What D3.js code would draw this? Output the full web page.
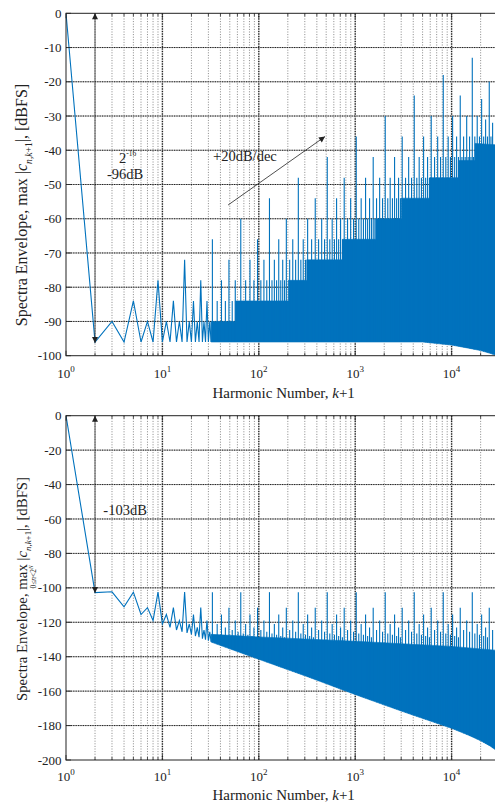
<!DOCTYPE html>
<html>
<head>
<meta charset="utf-8">
<script src="https://cdn.jsdelivr.net/npm/d3@7"></script>
<style>
  body { margin: 0; background: #fff; }
  text { font-family: "Liberation Serif", "Times New Roman", serif; fill: #222; }
</style>
</head>
<body>
<div id="vis"></div>
<script>
// harmonic number k+1 on a log axis (shared by both panels)
const harmonicMax = 32768;
const decadeTicks = [1, 10, 100, 1000, 10000];
const topDbTicks = [0, -10, -20, -30, -40, -50, -60, -70, -80, -90, -100];
const botDbTicks = [0, -20, -40, -60, -80, -100, -120, -140, -160, -180, -200];

// ---- top panel, max |c_n,k+1| ----
// first harmonics, drawn as a plain line: [k+1, dBFS]
const topLine = [
  [1, 0], [2, -96], [3, -90], [4, -96], [5, -84], [6, -96], [7, -90], [8, -96],
  [9, -78], [10, -96], [11, -90], [12, -96], [13, -84], [14, -96], [15, -90], [16, -96],
  [17, -72], [18, -96], [19, -90], [20, -96], [21, -84], [22, -96], [23, -90], [24, -96],
  [25, -78], [26, -96], [27, -90], [28, -96], [29, -84], [30, -96], [31, -90], [32, -96]
];
// the part that reads as solid blue: upper (steps) and lower edge
const topBandUpper = [
  [32, -90], [57, -90], [57, -84], [202, -84], [202, -78], [314, -78], [314, -72],
  [742, -72], [742, -66], [1632, -66], [1632, -60], [3020, -60], [3020, -54],
  [5970, -54], [5970, -48], [11750, -48], [11750, -43], [17500, -43], [17500, -38],
  [32768, -38.5]
];
const topBandLower = [
  [32, -96], [5000, -96], [10000, -96.9], [15000, -97.8], [20000, -98.5],
  [25000, -99.3], [30000, -100], [32768, -100]
];
// spikes standing out above the solid part
const topSpikeLevels = [-84, -78, -72, -66, -60, -54, -48, -42, -36, -30, -31, -32, -33, -24, -25, -27, -18, -20, -13];
const topSpikeHarmonics = [
  [37, 45, 53],
  [41, 57, 73, 89, 105, 121, 137, 153, 169, 185],
  [49, 81, 113, 145, 177, 209, 241, 273, 305],
  [33, 97, 161, 225, 289, 353, 417, 481, 545, 609, 673, 737],
  [65, 193, 321, 449, 577, 705, 833, 961, 1089, 1217, 1345, 1473, 1601],
  [129, 385, 641, 897, 1153, 1409, 1665, 1921, 2177, 2433, 2689, 2945],
  [257, 769, 1281, 1793, 2305, 2817, 3329, 3841, 4353, 4865, 5377, 5889],
  [513, 1537, 2561, 3585, 4609, 5633, 6657, 7681, 8705, 9729, 10753, 11777, 12801, 13825, 14849, 15873, 16897],
  [1025, 3073, 5121, 7169, 9217, 11265, 13313, 15361, 17409, 19457, 21505, 23553, 25601],
  [2049, 6145, 10241, 14337, 18433],
  [22529], [26625], [30721],
  [4097, 12289], [20481], [28673],
  [8193], [24577],
  [16385]
];

// ---- bottom panel, max over 0<=n<2^N ----
const botLine = [
  [1, 0], [2, -102.8], [3, -102.3], [4, -111], [5, -102.5], [6, -115.5], [7, -111.5], [8, -119],
  [9, -102.5], [10, -121], [11, -115.5], [12, -123], [13, -111.5], [14, -124.5], [15, -119], [16, -125.5],
  [17, -102.5], [18, -126.2], [19, -121], [20, -127], [21, -115.5], [22, -128], [23, -123], [24, -128.7],
  [25, -111.5], [26, -129.5], [27, -124.5], [28, -130.1], [29, -119], [30, -130.7], [31, -125.5], [32, -131.3]
];
const botBandUpper = [
  [32, -127], [100, -128.5], [1000, -131], [10000, -134], [32768, -136.5]
];
const botBandLower = [
  [32, -131.5], [100, -141.5], [316, -151.5], [1000, -162], [3162, -172], [10000, -181.6],
  [15000, -185.6], [20000, -188.8], [25000, -191.8], [30000, -195], [32768, -197]
];
const botSpikeLevels = [-102.5, -111.5, -115.5, -119, -121, -123, -124.5, -125.5, -126.5, -127.2, -128, -128.7];
const botSpikeHarmonics = [
  [33, 65, 129, 257, 513, 1025, 2049, 4097, 8193, 16385],
  [49, 97, 193, 385, 769, 1537, 3073, 6145, 12289, 24577],
  [41, 81, 161, 321, 641, 1281, 2561, 5121, 10241, 20481],
  [57, 113, 225, 449, 897, 1793, 3585, 7169, 14337, 28673],
  [37, 73, 145, 289, 577, 1153, 2305, 4609, 9217, 18433],
  [45, 89, 177, 353, 705, 1409, 2817, 5633, 11265, 22529],
  [53, 105, 209, 417, 833, 1665, 3329, 6657, 13313, 26625],
  [61, 121, 241, 481, 961, 1921, 3841, 7681, 15361, 30721],
  [69, 137, 273, 545, 1089, 2177, 4353, 8705, 17409],
  [77, 153, 305, 609, 1217, 2433, 4865, 9729, 19457],
  [85, 169, 337, 673, 1345, 2689, 5377, 10753, 21505],
  [93, 185, 369, 737, 1473, 2945, 5889, 11777, 23553]
];

const blue = '#0072bd';
const plotLeft = 66, plotRight = 501.3;

let svg = d3.select('#vis')
  .append('svg')
  .attr('width', 495)
  .attr('height', 802)
  .style('background-color', '#fff');

// arrow head for the annotations
svg.append('defs').append('marker')
    .attr('id', 'head')
    .attr('viewBox', '0 0 10 10')
    .attr('refX', 10)
    .attr('refY', 5)
    .attr('markerUnits', 'userSpaceOnUse')
    .attr('markerWidth', 7)
    .attr('markerHeight', 6)
    .attr('orient', 'auto-start-reverse')
  .append('path')
    .attr('d', 'M0,0L10,5L0,10Z')
    .attr('fill', '#222');

function drawPanel(p) {
  let x = d3.scaleLog().domain([1, harmonicMax]).range([plotLeft, plotRight]);
  let y = d3.scaleLinear().domain([0, p.yTicks[p.yTicks.length - 1]]).range([p.top, p.bottom]);
  let g = svg.append('g');

  g.append('clipPath').attr('id', 'clip-' + p.name)
    .append('rect')
      .attr('x', plotLeft).attr('y', p.top)
      .attr('width', plotRight - plotLeft).attr('height', p.bottom - p.top);

  // grid: minor verticals, major verticals, horizontals
  let minor = x.ticks().filter(v => !decadeTicks.includes(v));
  g.append('g').selectAll('line').data(minor).join('line')
      .attr('x1', d => x(d)).attr('x2', d => x(d))
      .attr('y1', p.top).attr('y2', p.bottom)
      .attr('stroke', '#6a6a6a').attr('stroke-width', 0.8)
      .attr('stroke-dasharray', '1,1.6');

  g.append('g').selectAll('line').data(decadeTicks.slice(1)).join('line')
      .attr('x1', d => x(d)).attr('x2', d => x(d))
      .attr('y1', p.top).attr('y2', p.bottom)
      .attr('stroke', '#222').attr('stroke-width', 1.4)
      .attr('stroke-dasharray', '1.5,1');

  let hLines = p.yTicks.slice(1, -1);
  g.append('g').selectAll('line').data(hLines).join('line')
      .attr('x1', plotLeft).attr('x2', plotRight)
      .attr('y1', d => y(d)).attr('y2', d => y(d))
      .attr('stroke', '#a8a8a8').attr('stroke-width', 1);
  g.append('g').selectAll('line').data(hLines).join('line')
      .attr('x1', plotLeft).attr('x2', plotRight)
      .attr('y1', d => y(d)).attr('y2', d => y(d))
      .attr('stroke', '#222').attr('stroke-width', 1)
      .attr('stroke-dasharray', '1.2,1.2');

  // spectrum
  let data = g.append('g').attr('clip-path', `url(#clip-${p.name})`);
  let line = d3.line().x(d => x(d[0])).y(d => y(d[1]));

  data.append('path')
      .attr('d', line(p.bandUpper.concat(p.bandLower.slice().reverse())) + 'Z')
      .attr('fill', blue)
      .attr('stroke', blue).attr('stroke-width', 0.6);

  // spikes go down to the lower edge of the solid part
  let lowerEdge = d3.scaleLog()
    .domain(p.bandLower.map(d => d[0]))
    .range(p.bandLower.map(d => d[1]));
  let spikes = p.spikeHarmonics.flatMap((hs, i) => hs.map(h => [h, p.spikeLevels[i]]));
  data.append('g').selectAll('line').data(spikes).join('line')
      .attr('x1', d => x(d[0])).attr('x2', d => x(d[0]))
      .attr('y1', d => y(d[1])).attr('y2', d => y(lowerEdge(d[0])))
      .attr('stroke', blue).attr('stroke-width', 1.1);

  data.append('path')
      .attr('d', line(p.line))
      .attr('fill', 'none')
      .attr('stroke', blue).attr('stroke-width', 1.1)
      .attr('stroke-linejoin', 'miter');

  // box and inward ticks
  g.append('rect')
      .attr('x', plotLeft).attr('y', p.top)
      .attr('width', plotRight - plotLeft).attr('height', p.bottom - p.top)
      .attr('fill', 'none').attr('stroke', '#222').attr('stroke-width', 1);

  let xt = x.ticks().map(v => ({v, len: decadeTicks.includes(v) ? 5 : 3}));
  g.append('g').selectAll('path').data(xt).join('path')
      .attr('d', d => `M${x(d.v)},${p.bottom}v${-d.len}M${x(d.v)},${p.top}v${d.len}`)
      .attr('stroke', '#222').attr('stroke-width', 0.8);
  g.append('g').selectAll('path').data(p.yTicks).join('path')
      .attr('d', d => `M${plotLeft},${y(d)}h5`)
      .attr('stroke', '#222').attr('stroke-width', 0.8);

  // tick labels
  g.append('g').selectAll('text').data(p.yTicks).join('text')
      .attr('x', plotLeft - 4.5)
      .attr('y', d => y(d))
      .attr('dy', '0.35em')
      .attr('text-anchor', 'end')
      .style('font-size', '13px')
      .text(d => d);

  let xl = g.append('g').selectAll('text').data(decadeTicks).join('text')
      .attr('x', d => x(d))
      .attr('y', p.bottom + p.tickGap)
      .attr('text-anchor', 'middle')
      .style('font-size', '13px');
  xl.append('tspan').text('10');
  xl.append('tspan')
      .attr('dy', -6)
      .style('font-size', '9px')
      .text(d => Math.round(Math.log10(d)));

  // x axis label
  let xlab = g.append('text')
      .attr('x', (plotLeft + plotRight) / 2)
      .attr('y', p.bottom + p.labelGap)
      .attr('text-anchor', 'middle')
      .style('font-size', '15px');
  xlab.append('tspan').text('Harmonic Number, ');
  xlab.append('tspan').style('font-style', 'italic').text('k');
  xlab.append('tspan').text('+1');

  // y axis label, built piece by piece so the subscripts can be placed
  let s = p.ySize;
  let ylab = g.append('text')
      .attr('transform', `translate(27,${p.yLabelCenter}) rotate(-90)`)
      .style('font-size', s + 'px');
  ylab.append('tspan').text('Spectra Envelope, max |');
  ylab.append('tspan').style('font-style', 'italic').text('c');
  let sub = ylab.append('tspan').attr('dy', s * 0.3).style('font-size', (s * 0.6) + 'px');
  sub.append('tspan').style('font-style', 'italic').text('n');
  sub.append('tspan').text(',');
  sub.append('tspan').style('font-style', 'italic').text('k');
  sub.append('tspan').text('+1');
  ylab.append('tspan').attr('dy', -s * 0.3).text('|, [dBFS]');
  let len = ylab.node().getComputedTextLength();
  ylab.attr('x', -len / 2);

  if (p.maxSub) {
    // "max" starts at char 18 of the label
    let a = ylab.node().getStartPositionOfChar(18).x;
    let b = ylab.node().getEndPositionOfChar(20).x;
    let ms = g.append('text')
        .attr('transform', `translate(27,${p.yLabelCenter}) rotate(-90)`)
        .attr('x', -len / 2 + (a + b) / 2 + len / 2)
        .attr('y', s * 0.62)
        .attr('text-anchor', 'middle')
        .style('font-size', (s * 0.5) + 'px');
    ms.append('tspan').text('0≤');
    ms.append('tspan').style('font-style', 'italic').text('n');
    ms.append('tspan').text('<2');
    ms.append('tspan').attr('dy', -3).style('font-size', (s * 0.36) + 'px')
      .style('font-style', 'italic').text('N');
  }

  // annotations
  p.arrows.forEach(a => {
    g.append('line')
        .attr('x1', x(a.from[0])).attr('y1', y(a.from[1]))
        .attr('x2', x(a.to[0])).attr('y2', y(a.to[1]))
        .attr('stroke', '#222').attr('stroke-width', 0.8)
        .attr('marker-end', 'url(#head)')
        .attr('marker-start', a.both ? 'url(#head)' : null);
  });
  p.notes.forEach(n => {
    let t = g.append('text')
        .attr('x', x(n.at[0])).attr('y', y(n.at[1]))
        .attr('text-anchor', n.anchor)
        .style('font-size', '14.5px')
        .text(n.text);
    if (n.sup) {
      t.append('tspan').attr('dy', -7).style('font-size', '7.5px').text(n.sup);
    }
  });
}

drawPanel({
  name: 'top',
  top: 13.3, bottom: 355.7,
  yTicks: topDbTicks,
  line: topLine, bandUpper: topBandUpper, bandLower: topBandLower,
  spikeLevels: topSpikeLevels, spikeHarmonics: topSpikeHarmonics,
  tickGap: 22.5, labelGap: 42,
  ySize: 16, yLabelCenter: 205, maxSub: false,
  arrows: [
    {from: [2, 0], to: [2, -96.3], both: true},
    {from: [48, -56], to: [486, -36], both: false}
  ],
  notes: [
    {at: [4.35, -43.8], text: '2', sup: '-16', anchor: 'middle'},
    {at: [4.1, -48.4], text: '-96dB', anchor: 'middle'},
    {at: [33.5, -43], text: '+20dB/dec', anchor: 'start'}
  ]
});

drawPanel({
  name: 'bot',
  top: 415.7, bottom: 760,
  yTicks: botDbTicks,
  line: botLine, bandUpper: botBandUpper, bandLower: botBandLower,
  spikeLevels: botSpikeLevels, spikeHarmonics: botSpikeHarmonics,
  tickGap: 20.5, labelGap: 40,
  ySize: 14.8, yLabelCenter: 589, maxSub: true,
  arrows: [
    {from: [2, 0], to: [2, -103], both: true}
  ],
  notes: [
    {at: [4.1, -57.7], text: '-103dB', anchor: 'middle'}
  ]
});
</script>
</body>
</html>
